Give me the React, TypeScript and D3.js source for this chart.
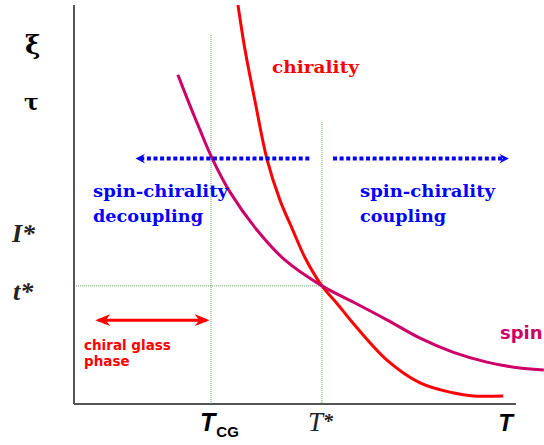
import { useMemo } from "react";
import * as d3 from "d3";

const W = 544;
const H = 445;
const MARGIN = { top: 5, right: 28, bottom: 41, left: 74 };

// abstract units, x: temperature 0..100, y: length/time scale 0..100
const chiralityT = [37.1, 38.7, 40.9, 43.7, 46.6, 49.5, 52.3, 56.1, 59.5, 63.1, 70.8, 78.3, 85.7, 90.3, 97.1];
const chiralityV = [100, 88.7, 76.2, 61.2, 51.1, 43.6, 36.6, 29.6, 25.2, 20.3, 11.0, 5.3, 2.8, 2.0, 2.0];
const spinT = [23.5, 26.2, 28.5, 31.2, 35.3, 41.4, 47.7, 56.1, 63.1, 70.8, 78.3, 85.7, 93.4, 100.9, 106.3];
const spinV = [82.5, 74.9, 68.7, 61.7, 53.1, 43.6, 36.1, 29.6, 25.6, 21.1, 16.5, 13.0, 10.5, 9.0, 8.5];

const T_CG = 31;
const T_STAR = 56.1;
const t_STAR = 29.6;
const TCG_TOP = 92.5;
const TSTAR_TOP = 70.7;

export default function App() {
  const innerW = W - MARGIN.left - MARGIN.right;
  const innerH = H - MARGIN.top - MARGIN.bottom;

  const x = d3.scaleLinear().domain([0, 100]).range([0, innerW]);
  const y = d3.scaleLinear().domain([0, 100]).range([innerH, 0]);

  const line = d3
    .line<[number, number]>()
    .x((d) => x(d[0]))
    .y((d) => y(d[1]))
    .curve(d3.curveCatmullRom.alpha(0.5));

  const chiralPath = useMemo(
    () => line(chiralityT.map((t, i) => [t, chiralityV[i]] as [number, number])),
    []
  );
  const spinPath = useMemo(
    () => line(spinT.map((t, i) => [t, spinV[i]] as [number, number])),
    []
  );

  const blue = "#0000ff";
  const red = "#ff0000";
  const spinColor = "#cc0066";
  const green = "#55aa55";
  const arrowY = y(61.5);

  return (
    <svg width={W} height={H} style={{ position: "absolute", left: 0, top: 0, background: "#fff" }}>
      <defs>
        <marker id="blueHead" viewBox="0 0 10 10" refX="5" refY="5" markerWidth="3" markerHeight="3" orient="auto-start-reverse">
          <path d="M1,1 L9,5 L1,9 L4,5 Z" fill={blue} />
        </marker>
        <marker id="redHead" viewBox="0 0 10 10" refX="8" refY="5" markerWidth="5" markerHeight="5" orient="auto-start-reverse">
          <path d="M0,1 L10,5 L0,9 L3,5 Z" fill={red} />
        </marker>
      </defs>
      <g transform={`translate(${MARGIN.left},${MARGIN.top})`}>
        {/* guide lines */}
        <line x1={x(T_CG)} x2={x(T_CG)} y1={y(TCG_TOP)} y2={innerH} stroke={green} strokeWidth={1} strokeDasharray="1,1" />
        <line x1={x(T_STAR)} x2={x(T_STAR)} y1={y(TSTAR_TOP)} y2={innerH} stroke={green} strokeWidth={1} strokeDasharray="1,1" />
        <line x1={0} x2={x(T_STAR)} y1={y(t_STAR)} y2={y(t_STAR)} stroke={green} strokeWidth={1} strokeDasharray="1,1" />

        {/* axes */}
        <line x1={0} x2={0} y1={0} y2={innerH} stroke="#555" strokeWidth={2} />
        <line x1={0} x2={innerW} y1={innerH} y2={innerH} stroke="#555" strokeWidth={2} />

        {/* curves */}
        <path d={chiralPath || ""} fill="none" stroke={red} strokeWidth={3} />
        <path d={spinPath || ""} fill="none" stroke={spinColor} strokeWidth={3} />

        {/* blue dotted arrows */}
        <line x1={x(15)} x2={x(53.5)} y1={arrowY} y2={arrowY} stroke={blue} strokeWidth={4} strokeDasharray="4,2.6" markerStart="url(#blueHead)" />
        <line x1={x(58.6)} x2={x(97.3)} y1={arrowY} y2={arrowY} stroke={blue} strokeWidth={4} strokeDasharray="4,2.6" markerEnd="url(#blueHead)" />

        {/* red double arrow */}
        <line x1={x(5.5)} x2={x(30)} y1={y(21)} y2={y(21)} stroke={red} strokeWidth={3} markerStart="url(#redHead)" markerEnd="url(#redHead)" />
      </g>

      {/* texts */}
      <g fontFamily="DejaVu Serif" fontWeight="bold" fontSize={17} fill={blue} lengthAdjust="spacingAndGlyphs">
        <text x={93} y={197} textLength={135} lengthAdjust="spacingAndGlyphs">spin-chirality</text>
        <text x={93} y={222} textLength={110} lengthAdjust="spacingAndGlyphs">decoupling</text>
        <text x={360} y={197} textLength={135} lengthAdjust="spacingAndGlyphs">spin-chirality</text>
        <text x={360} y={222} textLength={86} lengthAdjust="spacingAndGlyphs">coupling</text>
      </g>
      <text x={272} y={73} fontFamily="DejaVu Serif" fontWeight="bold" fontSize={17} fill={red} textLength={87} lengthAdjust="spacingAndGlyphs">chirality</text>
      <text x={500} y={339} fontFamily="DejaVu Sans" fontWeight="bold" fontSize={18} fill={spinColor}>spin</text>
      <g fontFamily="DejaVu Sans" fontWeight="bold" fontSize={13.5} fill={red}>
        <text x={84} y={350}>chiral glass</text>
        <text x={84} y={366}>phase</text>
      </g>

      {/* axis symbols */}
      <text x={25} y={54} fontFamily="DejaVu Serif" fontWeight="bold" fontSize={26} fill="#000">ξ</text>
      <text x={24} y={110} fontFamily="DejaVu Serif" fontWeight="bold" fontSize={22} fill="#000">τ</text>
      <text x={12} y={242} fontFamily="Liberation Serif" fontStyle="italic" fontWeight="bold" fontSize={26} fill="#222">I*</text>
      <text x={13} y={300} fontFamily="Liberation Serif" fontStyle="italic" fontWeight="bold" fontSize={26} fill="#222">t*</text>

      <text x={MARGIN.left + x(T_CG) - 11} y={431} fontFamily="Liberation Sans" fontStyle="italic" fontWeight="bold" fontSize={25} fill="#000">
        T<tspan fontSize={15} fontStyle="normal" dx={1} dy={6}>CG</tspan>
      </text>
      <text x={MARGIN.left + x(T_STAR) - 14} y={431} fontFamily="Liberation Serif" fontStyle="italic" fontSize={27} fill="#222">
        T<tspan fontWeight="bold" fontSize={20} dy={-3}>*</tspan>
      </text>
      <text x={MARGIN.left + x(96)} y={431} fontFamily="Liberation Sans" fontStyle="italic" fontWeight="bold" fontSize={24} fill="#000">T</text>
    </svg>
  );
}
